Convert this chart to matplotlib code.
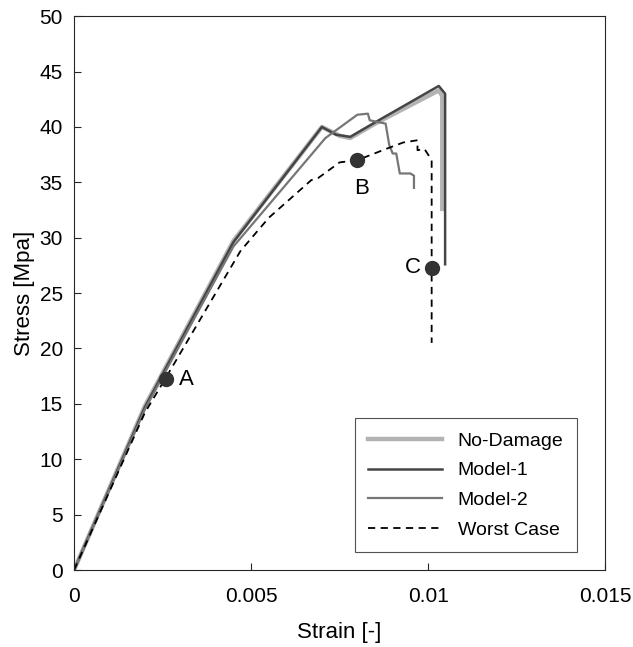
import matplotlib.pyplot as plt

# 應力-應變資料
nd_strain = [0, 0.0020, 0.0045, 0.0070, 0.0075, 0.0078, 0.0085, 0.0103, 0.0104, 0.0104]
nd_stress = [0, 14.8, 29.7, 40.0, 39.2, 39.0, 40.3, 43.3, 42.8, 32.6]

m1_strain = [0, 0.0020, 0.0045, 0.0070, 0.0074, 0.0078, 0.00855, 0.0103, 0.01048, 0.01048]
m1_stress = [0, 14.7, 29.6, 40.0, 39.3, 39.1, 40.5, 43.7, 43.0, 27.6]

m2_strain = [0, 0.0020, 0.0045, 0.0071, 0.0080, 0.0083, 0.00835, 0.0088, 0.0089,
             0.0090, 0.0091, 0.0092, 0.0095, 0.0096, 0.0096]
m2_stress = [0, 14.5, 29.2, 39.0, 41.1, 41.2, 40.6, 40.3, 38.4,
             37.6, 37.6, 35.8, 35.8, 35.6, 34.5]

wc_strain = [0, 0.0020, 0.0026, 0.0047, 0.0055, 0.0067, 0.0069, 0.0075, 0.0080, 0.0088,
             0.0093, 0.0097, 0.0097, 0.0099, 0.0101, 0.0101]
wc_stress = [0, 14.2, 17.4, 28.8, 31.8, 35.2, 35.4, 36.8, 37.0, 38.0,
             38.6, 38.8, 37.9, 38.0, 37.0, 20.5]

# 標記點
pt_labels = ['A', 'B', 'C']
pt_strain = [0.0026, 0.0080, 0.0101]
pt_stress = [17.2, 37.0, 27.3]

plt.rcParams['font.family'] = ['Liberation Sans', 'DejaVu Sans']

fig = plt.figure(figsize=(6.33, 6.47), dpi=100)
ax = fig.add_axes([0.117, 0.119, 0.839, 0.856])

ax.plot(nd_strain, nd_stress, color='#b3b3b3', lw=3.2, label='No-Damage')
ax.plot(m1_strain, m1_stress, color='#454545', lw=1.8, label='Model-1')
ax.plot(m2_strain, m2_stress, color='#767676', lw=1.6, label='Model-2')
ax.plot(wc_strain, wc_stress, color='black', lw=1.3, ls=(0, (4, 3)), label='Worst Case')

ax.plot(pt_strain, pt_stress, 'o', color='#333333', ms=10, zorder=5)
offsets = [(0.00035, 0, 'left', 'center'),
           (0.00012, -1.6, 'center', 'top'),
           (-0.0003, 0, 'right', 'center')]
for lab, x, y, (dx, dy, ha, va) in zip(pt_labels, pt_strain, pt_stress, offsets):
    ax.text(x + dx, y + dy, lab, fontsize=16, ha=ha, va=va)

ax.set_xlim(0, 0.015)
ax.set_ylim(0, 50)
ax.set_xticks([0, 0.005, 0.01, 0.015])
ax.set_xticklabels(['0', '0.005', '0.01', '0.015'])
ax.set_yticks(range(0, 51, 5))
ax.tick_params(direction='in', labelsize=15, length=5, color='#262626')
ax.tick_params(axis='x', pad=12)
ax.tick_params(axis='y', pad=8)
for s in ax.spines.values():
    s.set_color('#262626')
    s.set_linewidth(0.8)

ax.set_xlabel('Strain [-]', fontsize=16, labelpad=12)
ax.set_ylabel('Stress [Mpa]', fontsize=16, labelpad=3)

leg = ax.legend(loc='lower right', fontsize=14, frameon=True, fancybox=False,
                edgecolor='#262626', handlelength=3.8, borderpad=0.7,
                labelspacing=0.62, borderaxespad=0, bbox_to_anchor=(0.947, 0.032))
leg.get_frame().set_linewidth(0.8)

fig.savefig('out.png', dpi=100)
